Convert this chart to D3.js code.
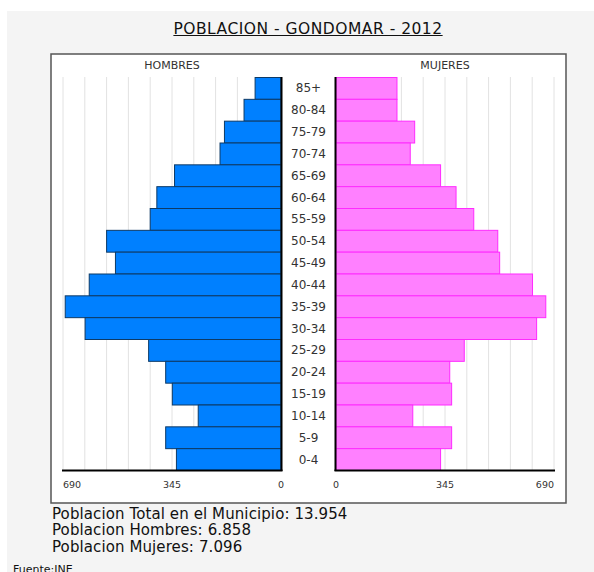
<!DOCTYPE html>
<html>
<head>
<meta charset="utf-8">
<script src="https://cdn.jsdelivr.net/npm/d3@7"></script>
<style>
  body { margin: 0; background: #fff; }
  svg { display: block; font-family: "DejaVu Sans", Verdana, sans-serif; }
</style>
</head>
<body>
<svg id="chart" width="594" height="572"></svg>
<script>
// age groups, top to bottom
var ages = ["85+", "80-84", "75-79", "70-74", "65-69", "60-64", "55-59", "50-54", "45-49",
            "40-44", "35-39", "30-34", "25-29", "20-24", "15-19", "10-14", "5-9", "0-4"];
var hombres = [82, 117, 179, 193, 337, 393, 414, 552, 524, 607, 683, 620, 419, 365, 344, 262, 365, 331];
var mujeres = [193, 193, 249, 235, 331, 380, 436, 512, 518, 622, 664, 635, 406, 360, 366, 243, 366, 331];
var tickVals = [690, 345, 0];
var gridVals = d3.range(0, 691, 69);
var summary = ["Poblacion Total en el Municipio: 13.954",
               "Poblacion Hombres: 6.858",
               "Poblacion Mujeres: 7.096"];

var svg = d3.select("#chart");

// grey panel + white frame
svg.append("rect").attr("x", 7).attr("y", 11).attr("width", 587).attr("height", 561).attr("fill", "#f4f4f4");
svg.append("rect").attr("x", 51).attr("y", 54).attr("width", 515).attr("height", 449)
   .attr("fill", "#fff").attr("stroke", "#555").attr("stroke-width", 1.5);

// title
var title = svg.append("text").attr("x", 308).attr("y", 33.5).attr("text-anchor", "middle")
   .attr("font-size", 15.5).attr("letter-spacing", 0.5).attr("fill", "#111")
   .text("POBLACION - GONDOMAR - 2012");
var tb = title.node().getBBox();
svg.append("line").attr("x1", tb.x).attr("x2", tb.x + tb.width).attr("y1", 35.5).attr("y2", 35.5)
   .attr("stroke", "#111").attr("stroke-width", 1.2);

var y = d3.scaleBand().domain(ages).range([77, 470]).padding(0);
var xL = d3.scaleLinear().domain([0, 690]).range([281, 63]);
var xR = d3.scaleLinear().domain([0, 690]).range([336, 554]);

// gridlines
[xL, xR].forEach(function(sc) {
  svg.append("g").selectAll("line").data(gridVals.filter(function(d) { return d > 0; })).enter()
    .append("line")
    .attr("x1", function(d) { return sc(d); }).attr("x2", function(d) { return sc(d); })
    .attr("y1", 77).attr("y2", 470)
    .attr("stroke", "#e2e2e2").attr("stroke-width", 1);
});

// bars
svg.append("g").selectAll("rect").data(hombres).enter().append("rect")
  .attr("x", function(d) { return xL(d); })
  .attr("y", function(d, i) { return y(ages[i]) + 0.5; })
  .attr("width", function(d) { return xL(0) - xL(d); })
  .attr("height", y.bandwidth())
  .attr("fill", "#0080ff").attr("stroke", "#0d3a66").attr("stroke-width", 1);

svg.append("g").selectAll("rect").data(mujeres).enter().append("rect")
  .attr("x", xR(0))
  .attr("y", function(d, i) { return y(ages[i]) + 0.5; })
  .attr("width", function(d) { return xR(d) - xR(0); })
  .attr("height", y.bandwidth())
  .attr("fill", "#ff80ff").attr("stroke", "#ff2bff").attr("stroke-width", 1);

// zero axes
svg.append("line").attr("x1", 281.5).attr("x2", 281.5).attr("y1", 77).attr("y2", 471).attr("stroke", "#000").attr("stroke-width", 2);
svg.append("line").attr("x1", 335.5).attr("x2", 335.5).attr("y1", 77).attr("y2", 471).attr("stroke", "#000").attr("stroke-width", 2);
svg.append("line").attr("x1", 62).attr("x2", 282.5).attr("y1", 470.5).attr("y2", 470.5).attr("stroke", "#000").attr("stroke-width", 2);
svg.append("line").attr("x1", 334.5).attr("x2", 555).attr("y1", 470.5).attr("y2", 470.5).attr("stroke", "#000").attr("stroke-width", 2);

// age labels
svg.append("g").selectAll("text").data(ages).enter().append("text")
  .attr("x", 308.5).attr("y", function(d) { return y(d) + y.bandwidth() / 2 + 4.5; })
  .attr("text-anchor", "middle").attr("font-size", 12).attr("fill", "#333")
  .text(function(d) { return d; });

// panel headings
svg.append("text").attr("x", 172).attr("y", 69).attr("text-anchor", "middle")
   .attr("font-size", 11).attr("fill", "#333").text("HOMBRES");
svg.append("text").attr("x", 445).attr("y", 69).attr("text-anchor", "middle")
   .attr("font-size", 11).attr("fill", "#333").text("MUJERES");

// tick labels
function anchorFor(d, side) {
  if (d === 690) return side === "L" ? "start" : "end";
  return "middle";
}
[["L", xL], ["R", xR]].forEach(function(p) {
  svg.append("g").selectAll("text").data(tickVals).enter().append("text")
    .attr("x", function(d) { return p[1](d); })
    .attr("y", 487.5)
    .attr("text-anchor", function(d) { return anchorFor(d, p[0]); })
    .attr("font-size", 9.5).attr("fill", "#333")
    .text(function(d) { return d; });
});

// summary text
svg.append("g").selectAll("text").data(summary).enter().append("text")
  .attr("x", 52).attr("y", function(d, i) { return 519 + i * 16.4; })
  .attr("font-size", 15).attr("letter-spacing", 0.1).attr("fill", "#111")
  .text(function(d) { return d; });

svg.append("text").attr("x", 13).attr("y", 573).attr("font-size", 11).attr("fill", "#111").text("Fuente:INE");
</script>
</body>
</html>
